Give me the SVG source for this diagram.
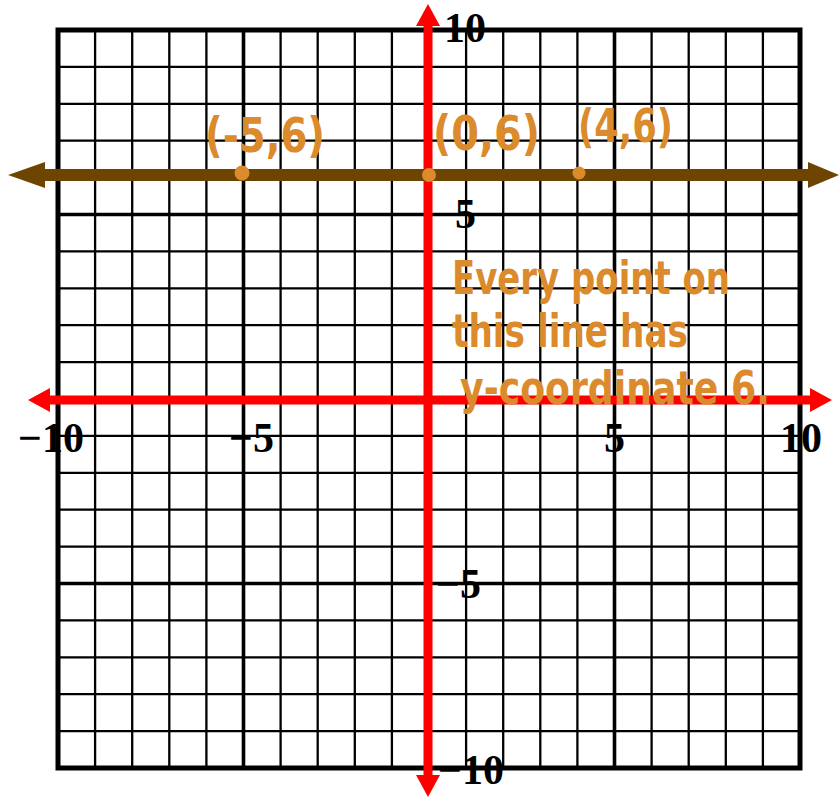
<svg xmlns="http://www.w3.org/2000/svg" width="839" height="797" viewBox="0 0 839 797">
<style>
.thin{stroke:#000;stroke-width:2.3;fill:none}
.major{stroke:#000;stroke-width:3.6;fill:none}
.border{stroke:#000;stroke-width:5;fill:none}
.num{font-family:"Liberation Serif","Times New Roman",serif;font-weight:bold;font-size:42px;fill:#000}
.hand{font-family:"DejaVu Sans","Liberation Sans",sans-serif;font-weight:bold;fill:#DB8A2C}
.axis{stroke:#FF0000;stroke-width:9}
</style>
<rect width="839" height="797" fill="#fff"/>
<g id="grid">
<path class="thin" d="M95.1 30V768M132.2 30V768M169.3 30V768M206.4 30V768M280.6 30V768M317.7 30V768M354.8 30V768M391.9 30V768M466.1 30V768M503.2 30V768M540.3 30V768M577.4 30V768M651.6 30V768M688.7 30V768M725.8 30V768M762.9 30V768M58 66.9H800M58 103.8H800M58 140.7H800M58 177.6H800M58 251.4H800M58 288.3H800M58 325.2H800M58 362.1H800M58 435.9H800M58 472.8H800M58 509.7H800M58 546.6H800M58 620.4H800M58 657.3H800M58 694.2H800M58 731.1H800"/>
<path class="major" d="M243.5 30V768M614.5 30V768M429 30V768M58 214.5H800M58 583.5H800M58 399H800"/>
<rect class="border" x="58" y="30" width="742" height="738"/>
</g>
<g id="axes">
<line class="axis" x1="428" y1="24" x2="428" y2="777"/>
<polygon fill="#FF0000" points="428,4 440,26 416,26"/>
<polygon fill="#FF0000" points="428,797 440,775 416,775"/>
<line class="axis" x1="48" y1="400" x2="812" y2="400"/>
<polygon fill="#FF0000" points="28,400 50,388 50,412"/>
<polygon fill="#FF0000" points="832,400 810,388 810,412"/>
</g>
<g id="labels">
<text class="num" x="444" y="42">10</text>
<text class="num" x="438" y="784">−10</text>
<text class="num" x="18" y="452">−10</text>
<text class="num" x="780" y="452">10</text>
<text class="num" x="229" y="452">−5</text>
<text class="num" x="604" y="452">5</text>
<text class="num" x="455" y="228">5</text>
<text class="num" x="436" y="598">−5</text>
</g>
<g id="line-y6">
<line x1="40" y1="175" x2="812" y2="175" stroke="#6E4500" stroke-width="12"/>
<polygon fill="#6E4500" points="8,175 45,162 45,188"/>
<polygon fill="#6E4500" points="839,175 808,162 808,188"/>
</g>
<g id="points">
<circle cx="242" cy="173" r="7.5" fill="#DB8A2C"/>
<circle cx="429" cy="175" r="7" fill="#DB8A2C"/>
<circle cx="579" cy="173" r="6.5" fill="#DB8A2C"/>
<text class="hand" x="205" y="152" font-size="48" textLength="120" lengthAdjust="spacingAndGlyphs">(-5,6)</text>
<text class="hand" x="433" y="150" font-size="48" textLength="107" lengthAdjust="spacingAndGlyphs">(0,6)</text>
<text class="hand" x="578" y="142" font-size="46" textLength="95" lengthAdjust="spacingAndGlyphs">(4,6)</text>
</g>
<g id="note">
<text class="hand" x="452" y="294" font-size="46" textLength="278" lengthAdjust="spacingAndGlyphs">Every point on</text>
<text class="hand" x="452" y="347" font-size="46" textLength="236" lengthAdjust="spacingAndGlyphs">this line has</text>
<text class="hand" x="460" y="404" font-size="46" textLength="310" lengthAdjust="spacingAndGlyphs">y-coordinate 6.</text>
</g>
</svg>
